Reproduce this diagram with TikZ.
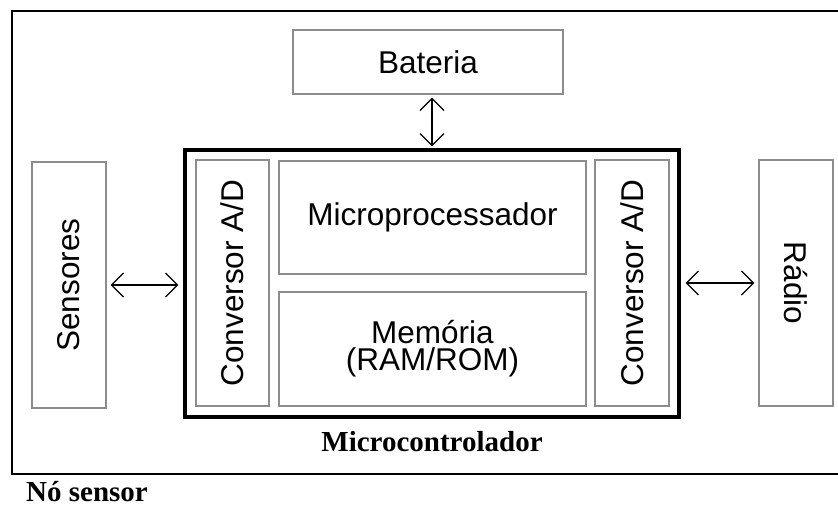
\documentclass[tikz,border=0pt]{standalone}
\usepackage{fontspec}
\setmainfont{Liberation Serif}
\setsansfont{Liberation Sans}
\usetikzlibrary{arrows.meta}
\tikzset{
  blk/.style={draw=black!45, line width=1.4pt, inner sep=0pt, font=\sffamily\fontsize{31.5}{27}\selectfont, align=center, text=black},
  mcbox/.style={draw=black, line width=3.2pt, inner sep=0pt},
  biarr/.style={line width=2pt, {Straight Barb[length=12pt,width=24pt,line width=1.2pt]}-{Straight Barb[length=12pt,width=24pt,line width=1.2pt]}},
  lbl/.style={font=\bfseries\fontsize{29}{30}\selectfont, inner sep=0pt}
}
\begin{document}
\begin{tikzpicture}[x=1pt,y=-1pt]
\useasboundingbox (0,0) rectangle (838,506);
\fill[white] (0,0) rectangle (838,506);
% outer frame (right side beyond the image)
\draw[line width=2pt] (842,11) -- (11.5,11) -- (11.5,474) -- (842,474);
% microcontroller
\node[mcbox, minimum width=494pt, minimum height=267pt] (mc) at (432,283.5) {};
\node[blk, minimum width=270pt, minimum height=64pt] (bat) at (428,62) {Bateria};
\node[blk, minimum width=74pt, minimum height=246pt] (sens) at (69,285) {\rotatebox{90}{Sensores}};
\node[blk, minimum width=74pt, minimum height=246pt] (rad) at (796,283) {\rotatebox{-90}{Rádio}};
\node[blk, minimum width=73pt, minimum height=246pt] (cl) at (232.5,283) {\rotatebox{90}{Conversor A/D}};
\node[blk, minimum width=74pt, minimum height=246pt] (cr) at (632,283) {\rotatebox{90}{Conversor A/D}};
\node[blk, minimum width=307pt, minimum height=113pt] (mp) at (432.5,217.5) {Microprocessador};
\node[blk, minimum width=307pt, minimum height=114pt] (mem) at (432.5,349) {Memória\\(RAM/ROM)};
\node[lbl, anchor=base] (mclbl) at (432,451) {Microcontrolador};
\node[lbl, anchor=base west] (nos) at (26,501) {Nó sensor};
% connectors
\draw[biarr, shorten <=4pt, shorten >=5pt] (sens.east) -- (sens.east -| mc.west);
\draw[biarr, shorten <=5pt, shorten >=4pt] (rad.west -| mc.east) -- (rad.west);
\draw[biarr, shorten <=3pt, shorten >=2pt] ([xshift=4pt]bat.south) -- ([xshift=4pt]bat.south |- mc.north);
\end{tikzpicture}
\end{document}
